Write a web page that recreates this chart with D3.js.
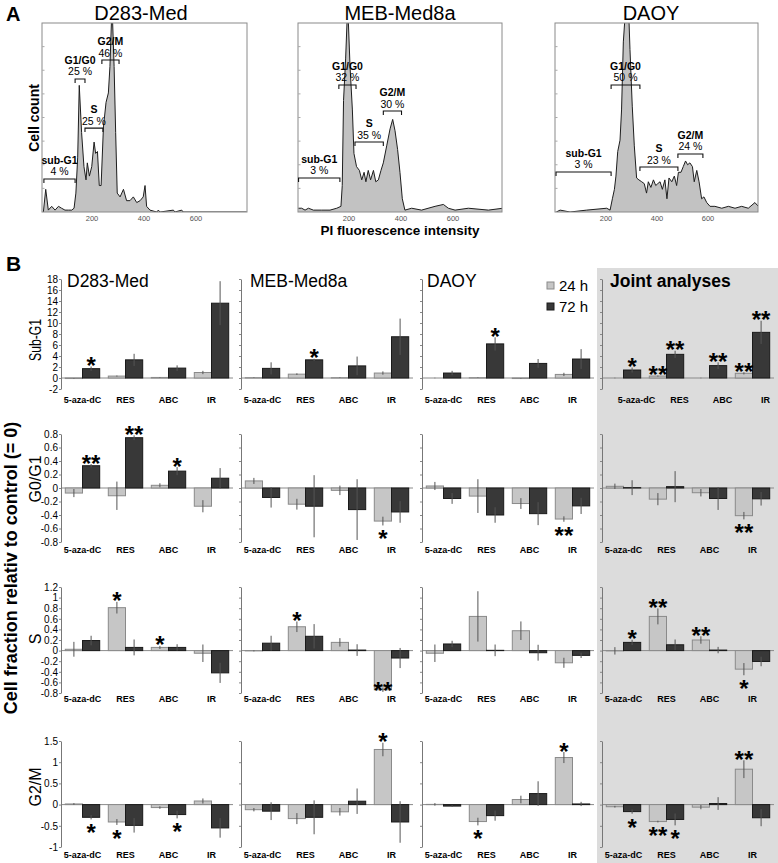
<!DOCTYPE html>
<html><head><meta charset="utf-8">
<script src="https://cdn.jsdelivr.net/npm/d3@7"></script>
<style>
body{margin:0;background:#fff;}
svg{display:block;font-family:Arial,"Liberation Sans",sans-serif;}
</style></head><body>
<svg id="fig" width="778" height="863"></svg>
<script>
// ---------- A: PI histograms, [intensity, count as % of frame height]
const d283Hist = [[13,0],[22,12],[32,1],[45,3],[58,1],[71,3],[83,2],[96,1],[109,1],[122,1],[131,2],[138,10],[145,29],[151,67],[160,42],[169,24],[177,17],[182,26],[190,19],[199,24],[208,37],[214,31],[221,32],[228,14],[235,14],[244,45],[254,58],[263,63],[269,77],[277,110],[285,77],[291,42],[297,10],[308,8],[321,12],[333,6],[346,6],[359,8],[372,5],[385,6],[397,8],[404,14],[410,3],[423,1],[449,0],[455,1],[462,0],[513,1],[519,0],[545,1],[551,0],[795,0]];
const mebHist = [[5,2],[18,2],[31,1],[44,2],[63,1],[95,1],[127,1],[153,2],[169,3],[174,14],[179,59],[187,81],[195,110],[204,77],[213,54],[219,31],[229,24],[240,22],[249,17],[258,21],[265,16],[274,22],[283,17],[294,22],[303,16],[313,17],[323,22],[332,26],[345,35],[358,44],[368,49],[377,43],[387,33],[396,21],[405,7],[415,1],[441,2],[479,1],[531,3],[563,4],[582,2],[608,1],[659,2],[736,1],[792,2]];
const daoyHist = [[5,0],[20,1],[59,0],[124,1],[203,2],[216,1],[225,7],[233,12],[239,19],[246,32],[255,38],[261,54],[268,90],[278,110],[288,110],[294,86],[303,56],[311,35],[320,18],[329,17],[340,16],[350,15],[359,10],[366,16],[376,13],[386,17],[395,14],[403,15],[412,16],[421,12],[431,17],[439,7],[447,18],[458,16],[468,19],[477,14],[484,21],[494,21],[503,24],[512,27],[520,25],[529,26],[539,24],[546,16],[556,22],[565,16],[575,7],[584,8],[595,5],[608,3],[627,3],[654,2],[680,3],[706,2],[732,3],[758,2],[784,5],[797,3]];
// gates: [phase, percent, from, to, level]
const d283Gates = [["sub-G1","4 %",15,135,17.5],["G1/G0","25 %",135,173,70.4],["S","25 %",173,242,44.4],["G2/M","46 %",238,304,80.4]];
const mebGates = [["sub-G1","3 %",6,165,18],["G1/G0","32 %",161,227,67.2],["S","35 %",223,332,37],["G2/M","30 %",332,402,53.4]];
const daoyGates = [["sub-G1","3 %",4,220,21.2],["G1/G0","50 %",220,333,67.2],["S","23 %",333,482,23.8],["G2/M","24 %",482,580,30.7]];
const histTicks = [200,400,600];

// ---------- B: change in cell fraction relative to control
const cats = ["5-aza-dC","RES","ABC","IR"];
const panels = ["D283-Med","MEB-Med8a","DAOY","Joint analyses"];
const series = ["24 h","72 h"];
// each array: [panel][category]
const subG1_24h = [[-0.1,0.35,0.1,1.0],[0.05,0.7,0.05,0.9],[0,0.05,-0.1,0.65],[0,0.35,0,0.85]];
const subG1_24hErr = [[0.05,0.1,0.05,0.3],[0.05,0.15,0.05,0.3],[0.05,0.05,0.05,0.3],[0.05,0.1,0.05,0.2]];
const subG1_72h = [[1.7,3.3,1.8,13.6],[1.75,3.3,2.2,7.5],[0.9,6.2,2.65,3.45],[1.45,4.3,2.25,8.3]];
const subG1_72hErr = [[0.4,1.1,0.5,4.0],[1.1,0.2,1.7,3.3],[0.4,1.2,0.8,1.8],[0.45,0.65,0.6,2.1]];
const g0g1_24h = [[-0.075,-0.115,0.04,-0.27],[0.105,-0.24,-0.035,-0.49],[0.03,-0.12,-0.23,-0.46],[0.025,-0.165,-0.07,-0.41]];
const g0g1_24hErr = [[0.06,0.21,0.03,0.09],[0.045,0.08,0.07,0.065],[0.06,0.25,0.08,0.04],[0.04,0.09,0.055,0.055]];
const g0g1_72h = [[0.33,0.745,0.25,0.145],[-0.14,-0.27,-0.32,-0.355],[-0.155,-0.4,-0.38,-0.265],[0.005,0.02,-0.155,-0.16]];
const g0g1_72hErr = [[0.025,0.035,0.06,0.15],[0.15,0.46,0.45,0.16],[0.08,0.115,0.17,0.12],[0.11,0.23,0.17,0.1]];
const s_24h = [[0.025,0.81,0.06,-0.05],[-0.005,0.45,0.155,-0.74],[-0.05,0.645,0.375,-0.23],[-0.005,0.645,0.2,-0.35]];
const s_24hErr = [[0.14,0.11,0.03,0.165],[0.01,0.1,0.08,0.04],[0.165,0.475,0.175,0.095],[0.07,0.15,0.07,0.115]];
const s_72h = [[0.19,0.06,0.06,-0.42],[0.14,0.27,0.01,-0.14],[0.125,0.005,-0.04,-0.09],[0.155,0.11,0.01,-0.205]];
const s_72hErr = [[0.09,0.15,0.06,0.19],[0.14,0.23,0.11,0.19],[0.06,0.11,0.15,0.05],[0.05,0.1,0.06,0.09]];
const g2m_24h = [[0.015,-0.41,-0.07,0.085],[-0.12,-0.33,-0.17,1.3],[0.005,-0.4,0.12,1.11],[-0.05,-0.4,-0.06,0.835]];
const g2m_24hErr = [[0.02,0.07,0.03,0.06],[0.04,0.13,0.09,0.16],[0.03,0.09,0.09,0.13],[0.02,0.02,0.05,0.21]];
const g2m_72h = [[-0.3,-0.49,-0.235,-0.55],[-0.155,-0.3,0.08,-0.41],[-0.035,-0.26,0.26,0.015],[-0.165,-0.35,0.025,-0.31]];
const g2m_72hErr = [[0.05,0.17,0.09,0.23],[0.21,0.4,0.3,0.49],[0.02,0.12,0.29,0.05],[0.05,0.14,0.15,0.2]];
// significance: [panel, category, series (0 = 24 h, 1 = 72 h), mark]
const subG1Stars = [[0,0,1,"*"],[1,1,1,"*"],[2,1,1,"*"],[3,0,1,"*"],[3,1,0,"**"],[3,1,1,"**"],[3,2,1,"**"],[3,3,0,"**"],[3,3,1,"**"]];
const g0g1Stars = [[0,0,1,"**"],[0,1,1,"**"],[0,2,1,"*"],[1,3,0,"*"],[2,3,0,"**"],[3,3,0,"**"]];
const sStars = [[0,1,0,"*"],[0,2,0,"*"],[1,1,0,"*"],[1,3,0,"**"],[3,0,1,"*"],[3,1,0,"**"],[3,2,0,"**"],[3,3,0,"*"]];
const g2mStars = [[0,0,1,"*"],[0,1,0,"*"],[0,2,1,"*"],[1,3,0,"*"],[2,1,0,"*"],[2,3,0,"*"],[3,0,1,"*"],[3,1,0,"**"],[3,1,1,"*"],[3,3,0,"**"]];
const subG1Ticks = [-2,0,2,4,6,8,10,12,14,16,18];
const g0g1Ticks = [-0.8,-0.6,-0.4,-0.2,0,0.2,0.4,0.6,0.8];
const sTicks = [-0.8,-0.6,-0.4,-0.2,0,0.2,0.4,0.6,0.8,1,1.2];
const g2mTicks = [-1,-0.5,0,0.5,1,1.5];

const svg = d3.select("#fig");

// ================= panel A =================
svg.append("text").attr("x",6).attr("y",21).attr("font-size",20).attr("font-weight","bold").text("A");

const hists = [
  {title:"D283-Med", tx:141, data:d283Hist, gates:d283Gates, range:[40,248], frame:[42,247]},
  {title:"MEB-Med8a", tx:400, data:mebHist, gates:mebGates, range:[297,505], frame:[298,502]},
  {title:"DAOY", tx:651, data:daoyHist, gates:daoyGates, range:[555,759], frame:[555,758]}
];
const hTop = 23, hBot = 212;

hists.forEach((h,i) => {
  let x = d3.scaleLinear().domain([0,800]).range(h.range);
  let y = d3.scaleLinear().domain([0,100]).range([hBot,hTop]);
  let g = svg.append("g");
  g.append("clipPath").attr("id","hclip"+i).append("rect")
    .attr("x",h.frame[0]).attr("y",hTop).attr("width",h.frame[1]-h.frame[0]).attr("height",hBot-hTop);
  let area = d3.area().x(d=>x(d[0])).y0(hBot).y1(d=>y(d[1]));
  let line = d3.line().x(d=>x(d[0])).y(d=>y(d[1]));
  g.append("path").datum(h.data).attr("clip-path","url(#hclip"+i+")").attr("d",area).attr("fill","#c2c2c2");
  g.append("path").datum(h.data).attr("clip-path","url(#hclip"+i+")").attr("d",line)
    .attr("fill","none").attr("stroke","#1e1e1e").attr("stroke-width",1);
  g.append("rect").attr("x",h.frame[0]).attr("y",hTop).attr("width",h.frame[1]-h.frame[0]).attr("height",hBot-hTop)
    .attr("fill","none").attr("stroke","#8a8a8a");
  // faint ticks on the left edge
  d3.range(12.5,100,12.5).forEach(v => {
    g.append("line").attr("x1",h.frame[0]).attr("x2",h.frame[0]+2.5).attr("y1",y(v)).attr("y2",y(v))
      .attr("stroke","#aaa");
  });
  g.selectAll(".htick").data(histTicks).enter().append("text")
    .attr("x",d=>x(d)).attr("y",221).attr("text-anchor","middle").attr("font-size",7.5).attr("fill","#555").text(d=>d);
  g.append("text").attr("x",h.tx).attr("y",20).attr("text-anchor","middle")
    .attr("font-size",20).text(h.title);
  // gates
  h.gates.forEach(gt => {
    let x1 = x(gt[2]), x2 = x(gt[3]), yy = y(gt[4]);
    g.append("path").attr("d",`M${x1},${yy+4}V${yy}H${x2}V${yy+4}`).attr("fill","none").attr("stroke","#111").attr("stroke-width",1.1);
    g.append("text").attr("x",(x1+x2)/2).attr("y",yy-15).attr("text-anchor","middle")
      .attr("font-size",10.5).attr("font-weight","bold").text(gt[0]);
    g.append("text").attr("x",(x1+x2)/2).attr("y",yy-3.5).attr("text-anchor","middle")
      .attr("font-size",10.5).text(gt[1]);
  });
});
svg.append("text").attr("transform","translate(39,118) rotate(-90)").attr("text-anchor","middle")
  .attr("font-size",14).attr("font-weight","bold").text("Cell count");
svg.append("text").attr("x",400).attr("y",235).attr("text-anchor","middle")
  .attr("font-size",13.5).attr("font-weight","bold").text("PI fluorescence intensity");

// ================= panel B =================
const jointX = 597;
svg.append("rect").attr("x",jointX).attr("y",268).attr("width",778-jointX).attr("height",863-268).attr("fill","#dcdcdc");
svg.append("text").attr("x",6).attr("y",271).attr("font-size",21).attr("font-weight","bold").text("B");

const panelX = [61,241,422,602], panelW = 172;
const rows = [
  {name:"Sub-G1", v:[subG1_24h,subG1_72h], e:[subG1_24hErr,subG1_72hErr], stars:subG1Stars, ticks:subG1Ticks,
   top:279, bottom:389, catY:403, lab:[41,340], labLen:42},
  {name:"G0/G1", v:[g0g1_24h,g0g1_72h], e:[g0g1_24hErr,g0g1_72hErr], stars:g0g1Stars, ticks:g0g1Ticks,
   top:434, bottom:542, catY:553, lab:[41,479]},
  {name:"S", v:[s_24h,s_72h], e:[s_24hErr,s_72hErr], stars:sStars, ticks:sTicks,
   top:587, bottom:693, catY:702, lab:[41,639]},
  {name:"G2/M", v:[g2m_24h,g2m_72h], e:[g2m_24hErr,g2m_72hErr], stars:g2mStars, ticks:g2mTicks,
   top:741, bottom:847, catY:858, lab:[41,787]}
];
const fill = ["#c6c6c6","#383838"], edge = ["#8a8a8a","#1a1a1a"];

rows.forEach((r,ri) => {
  let y = d3.scaleLinear().domain(d3.extent(r.ticks)).range([r.bottom,r.top]);
  let lt = svg.append("text").attr("transform",`translate(${r.lab[0]},${r.lab[1]}) rotate(-90)`)
    .attr("text-anchor","middle").attr("font-size",16).text(r.name);
  if (r.labLen) lt.attr("textLength",r.labLen).attr("lengthAdjust","spacingAndGlyphs");

  panels.forEach((p,pi) => {
    let x = d3.scaleBand().domain(cats).range([panelX[pi],panelX[pi]+panelW]).paddingInner(0.2).paddingOuter(0.1);
    let xs = d3.scaleBand().domain(series).range([0,x.bandwidth()]);
    let g = svg.append("g");
    // zero line
    g.append("line").attr("x1",panelX[pi]).attr("x2",panelX[pi]+panelW).attr("y1",y(0)).attr("y2",y(0))
      .attr("stroke","#8a8a8a");
    let ax = d3.axisLeft(y).tickValues(r.ticks).tickSize(2).tickSizeOuter(0).tickPadding(1)
      .tickFormat(pi===0 ? (d=>String(d)) : "");
    let ag = g.append("g").attr("transform",`translate(${panelX[pi]},0)`).call(ax);
    ag.select(".domain").attr("stroke","#777");
    ag.selectAll(".tick line").attr("stroke","#888");
    ag.selectAll(".tick text").attr("font-size",10).attr("font-family","Arial, 'Liberation Sans', sans-serif").attr("fill","#000");

    // bars
    series.forEach((s,si) => {
      cats.forEach((c,ci) => {
        let v = r.v[si][pi][ci], e = r.e[si][pi][ci];
        let bx = x(c)+xs(s), bw = xs.bandwidth();
        g.append("rect").attr("x",bx).attr("y",Math.min(y(v),y(0))).attr("width",bw)
          .attr("height",Math.abs(y(v)-y(0))).attr("fill",fill[si]).attr("stroke",edge[si]).attr("stroke-width",1);
        g.append("line").attr("x1",bx+bw/2).attr("x2",bx+bw/2).attr("y1",y(v-e)).attr("y2",y(v+e))
          .attr("stroke","#555").attr("stroke-width",1);
      });
    });

    // category labels (first row of the joint panel sits a bit to the right)
    let shift = (ri===0 && pi===3) ? 13 : 0;
    g.selectAll(".cat").data(cats).enter().append("text")
      .attr("x",d=>x(d)+x.bandwidth()/2+shift).attr("y",r.catY).attr("text-anchor","middle")
      .attr("font-size",9).attr("font-weight","bold").text(d=>d);

    // significance marks
    r.stars.filter(st=>st[0]===pi).forEach(st => {
      let c = cats[st[1]], s = series[st[2]];
      let v = r.v[st[2]][pi][st[1]], e = r.e[st[2]][pi][st[1]];
      let cx = x(c)+xs(s)+xs.bandwidth()/2;
      let cy = v >= 0 ? y(v+e)-6 : y(v-e)+8.5;
      cy = Math.min(cy, r.bottom-8);
      g.append("text").attr("x",cx).attr("y",cy+13.5).attr("text-anchor","middle")
        .attr("font-size",24).attr("font-weight","bold").text(st[3]);
    });
  });
});

// panel titles
[["D283-Med",67,false],["MEB-Med8a",250,false],["DAOY",427,false],["Joint analyses",610,true]].forEach(t => {
  svg.append("text").attr("x",t[1]).attr("y",287).attr("font-size",17.5)
    .attr("font-weight",t[2]?"bold":"normal").text(t[0]);
});
// legend
series.forEach((s,si) => {
  svg.append("rect").attr("x",547).attr("y",282+si*21).attr("width",7).attr("height",7)
    .attr("fill",fill[si]).attr("stroke",edge[si]);
  svg.append("text").attr("x",559).attr("y",291+si*21).attr("font-size",15).text(s);
});
svg.append("text").attr("transform","translate(17,568) rotate(-90)").attr("text-anchor","middle")
  .attr("font-size",18).attr("font-weight","bold").text("Cell fraction relativ to control (= 0)");
</script>
</body></html>
